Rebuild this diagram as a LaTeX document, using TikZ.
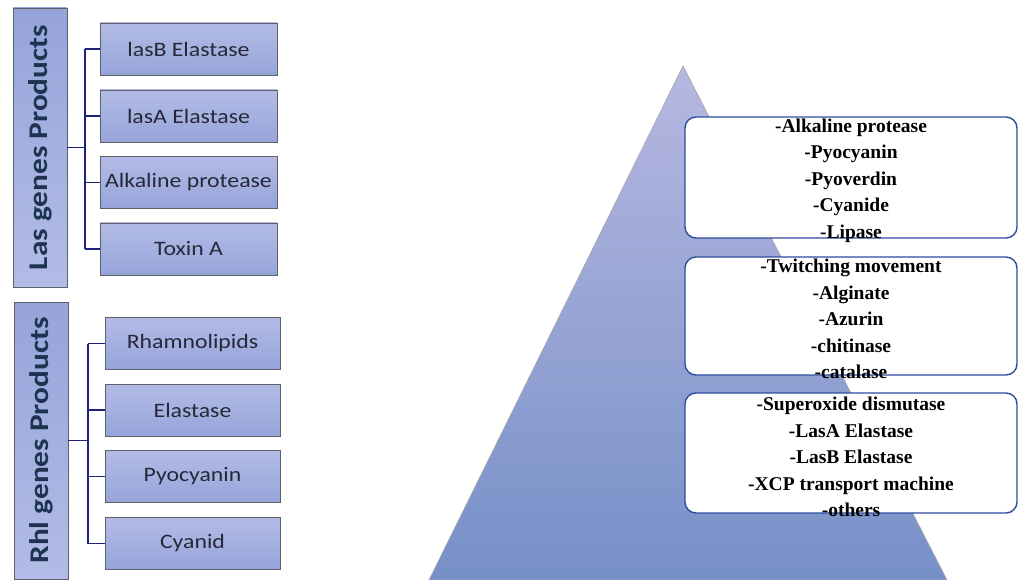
\documentclass[tikz,border=0pt]{standalone}
\usepackage{fontspec}
\usepackage{graphicx}
\setmainfont{Carlito}
\newfontfamily\timesfont{Liberation Serif}
\newcommand{\wdn}[1]{\scalebox{1.16}[1]{#1}}
\definecolor{itemtop}{RGB}{178,188,230}
\definecolor{itembot}{RGB}{150,164,218}
\definecolor{itemline}{RGB}{95,95,105}
\definecolor{itemtext}{RGB}{38,40,55}
\definecolor{labtext}{RGB}{28,52,80}
\definecolor{busline}{RGB}{28,34,120}
\definecolor{tritop}{RGB}{182,184,224}
\definecolor{tribot}{RGB}{118,144,200}
\definecolor{boxline}{RGB}{45,75,160}
\tikzset{
  item/.style={draw=itemline, line width=0.8pt, top color=itemtop, bottom color=itembot,
    minimum height=52pt, inner sep=0pt, text=itemtext, font=\fontsize{20.5}{22}\selectfont},
  genelab/.style={draw=itemline, line width=0.8pt, top color=itembot, bottom color=itemtop,
    rotate=90, minimum height=54pt, inner sep=0pt, text=labtext,
    font=\bfseries\fontsize{27}{29}\selectfont},
  conn/.style={draw=busline, line width=1.8pt},
  listbox/.style={draw=boxline, line width=1.4pt, fill=white, rounded corners=11pt,
    minimum width=332pt, inner sep=0pt},
  listtext/.style={align=center, inner sep=0pt, text=black,
    font=\timesfont\bfseries\fontsize{19.5}{26.5}\selectfont}
}
\begin{document}
\begin{tikzpicture}[x=1pt,y=-1pt]
\useasboundingbox (0,0) rectangle (1020,580);
\fill[white] (0,0) rectangle (1020,580);

% ---- Las group
\node[genelab, minimum width=279pt] (las) at (40,147.5) {\wdn{Las genes Products}};
\node[item, minimum width=177pt] (l1) at (188.5,49) {\wdn{lasB Elastase}};
\node[item, minimum width=177pt] (l2) at (188.5,116) {\wdn{lasA Elastase}};
\node[item, minimum width=177pt] (l3) at (188.5,182.5) {\wdn{Alkaline protease}};
\node[item, minimum width=177pt] (l4) at (188.5,249) {\wdn{Toxin A}};
\coordinate (lbus) at (85,150);
\draw[conn] (las.south) -- (lbus |- las.south);
\draw[conn] (lbus |- l1.west) -- (lbus |- l4.west);
\foreach \i in {1,...,4} \draw[conn] (lbus |- l\i.west) -- (l\i.west);

% ---- Rhl group
\node[genelab, minimum width=277pt] (rhl) at (41,440.5) {\wdn{Rhl genes Products}};
\node[item, minimum width=175pt] (r1) at (192.5,343.5) {\wdn{Rhamnolipids}};
\node[item, minimum width=175pt] (r2) at (192.5,410) {\wdn{Elastase}};
\node[item, minimum width=175pt] (r3) at (192.5,476.5) {\wdn{Pyocyanin}};
\node[item, minimum width=175pt] (r4) at (192.5,543.5) {\wdn{Cyanid}};
\coordinate (rbus) at (88,443);
\draw[conn] (rhl.south) -- (rbus |- rhl.south);
\draw[conn] (rbus |- r1.west) -- (rbus |- r4.west);
\foreach \i in {1,...,4} \draw[conn] (rbus |- r\i.west) -- (r\i.west);

% ---- pyramid
\path[draw=gray!70, line width=0.6pt, top color=tritop, bottom color=tribot]
  (683,66) -- (947,580) -- (429,580) -- cycle;

\node[listbox, minimum height=121pt] (b1) at (851,177.5) {};
\node[listtext] (t1) at ([yshift=-3pt]b1.center)
  {-Alkaline protease\\-Pyocyanin\\-Pyoverdin\\-Cyanide\\-Lipase};
\node[listbox, minimum height=118pt] (b2) at (851,316) {};
\node[listtext] (t2) at ([yshift=-3pt]b2.center)
  {-Twitching movement\\-Alginate\\-Azurin\\-chitinase\\-catalase};
\node[listbox, minimum height=120pt] (b3) at (851,453) {};
\node[listtext] (t3) at ([yshift=-4pt]b3.center)
  {-Superoxide dismutase\\-LasA Elastase\\-LasB Elastase\\-XCP transport machine\\-others};
\end{tikzpicture}
\end{document}
